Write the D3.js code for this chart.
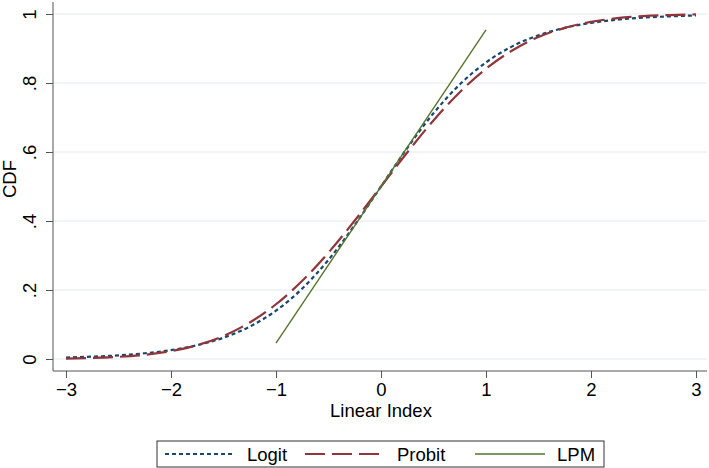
<!DOCTYPE html>
<html><head><meta charset="utf-8">
<script src="https://cdn.jsdelivr.net/npm/d3@7"></script>
<style>body{margin:0;background:#fff}svg{display:block}text{font-family:"Liberation Sans",Arial,Helvetica,sans-serif;fill:#000}</style>
</head><body><svg id="c" width="709" height="468"></svg>
<script>
// Data
const xGrid = [-3,-2.75,-2.5,-2.25,-2,-1.75,-1.5,-1.25,-1,-0.75,-0.5,-0.25,0,0.25,0.5,0.75,1,1.25,1.5,1.75,2,2.25,2.5,2.75,3];
const logitValues = [0.0043,0.0068,0.0106,0.0166,0.0259,0.0401,0.0617,0.0938,0.1402,0.2042,0.2876,0.3885,0.5,0.6115,0.7124,0.7958,0.8598,0.9062,0.9383,0.9599,0.9741,0.9834,0.9894,0.9932,0.9957];
const probitValues = [0.0013,0.0030,0.0062,0.0122,0.0228,0.0401,0.0668,0.1057,0.1587,0.2266,0.3085,0.4013,0.5,0.5987,0.6915,0.7734,0.8413,0.8943,0.9332,0.9599,0.9772,0.9878,0.9938,0.9970,0.9987];
const lpmX = [-1, 1];
const lpmValues = [0.046, 0.954];
const xTicks = [-3,-2,-1,0,1,2,3];
const yTicks = [0,0.2,0.4,0.6,0.8,1];
const yTickLabels = ["0",".2",".4",".6",".8","1"];
const seriesNames = ["Logit","Probit","LPM"];

const svg = d3.select("#c");
const x = d3.scaleLinear().domain([-3,3]).range([66,696]);
const y = d3.scaleLinear().domain([0,1]).range([359,14]);
const axisLeftX = 53, axisBottomY = 371, plotRight = 707, plotTop = 2;
const fs = "18.5px";

// gridlines
svg.append("g").selectAll("line").data(yTicks).join("line")
  .attr("x1", axisLeftX).attr("x2", plotRight)
  .attr("y1", d=>y(d)).attr("y2", d=>y(d))
  .attr("stroke","#e3eaed").attr("stroke-width",1);

// axes
const axisColor = "#555";
const yAxis = svg.append("g").attr("transform",`translate(${axisLeftX},0)`)
  .call(d3.axisLeft(y).tickValues(yTicks).tickSize(7).tickFormat((d,i)=>yTickLabels[i]));
yAxis.select(".domain").remove();
yAxis.append("line").attr("x1",0).attr("x2",0).attr("y1",plotTop).attr("y2",axisBottomY).attr("stroke",axisColor);
yAxis.selectAll(".tick line").attr("stroke",axisColor);
yAxis.selectAll(".tick text").attr("transform","rotate(-90)").attr("x",0).attr("y",-17)
  .attr("dy",0).attr("text-anchor","middle").style("font-size",fs).style("font-family",null);

const xAxis = svg.append("g").attr("transform",`translate(0,${axisBottomY})`)
  .call(d3.axisBottom(x).tickValues(xTicks).tickSize(7).tickFormat(d=>d<0?"\u2212"+Math.abs(d):String(d)));
xAxis.select(".domain").remove();
xAxis.append("line").attr("x1",axisLeftX).attr("x2",plotRight).attr("y1",0).attr("y2",0).attr("stroke",axisColor);
xAxis.selectAll(".tick line").attr("stroke",axisColor);
xAxis.selectAll(".tick text").attr("y",25).attr("dy",0).style("font-size",fs).style("font-family",null);
svg.selectAll(".tick text").attr("fill","#000");

// axis titles
svg.append("text").attr("x",381).attr("y",417).attr("text-anchor","middle").style("font-size",fs).text("Linear Index");
svg.append("text").attr("transform","translate(16,179) rotate(-90)").attr("text-anchor","middle").style("font-size",fs).text("CDF");

// lines
const line = d3.line().x(d=>x(d[0])).y(d=>y(d[1])).curve(d3.curveMonotoneX);
const styles = {
  Logit:{color:"#1a476f",width:2.2,dash:"4,3"},
  Probit:{color:"#90353b",width:2.2,dash:"20,7"},
  LPM:{color:"#55752f",width:1.4,dash:null}
};
const series = [
  {name:"Logit", pts:xGrid.map((v,i)=>[v,logitValues[i]])},
  {name:"Probit", pts:xGrid.map((v,i)=>[v,probitValues[i]])},
  {name:"LPM", pts:lpmX.map((v,i)=>[v,lpmValues[i]])}
];
svg.append("g").selectAll("path").data(series).join("path")
  .attr("d",d=>line(d.pts)).attr("fill","none")
  .attr("stroke",d=>styles[d.name].color).attr("stroke-width",d=>styles[d.name].width)
  .attr("stroke-dasharray",d=>styles[d.name].dash);

// legend
const lg = svg.append("g");
lg.append("rect").attr("x",157).attr("y",441).attr("width",447).attr("height",26)
  .attr("fill","#fff").attr("stroke","#333").attr("stroke-width",1);
const keyX = [[165,234],[305,385],[475,545]];
const textX = [247,397,557];
seriesNames.forEach((n,i)=>{
  const s = styles[n];
  lg.append("line").attr("x1",keyX[i][0]).attr("x2",keyX[i][1]).attr("y1",454).attr("y2",454)
    .attr("stroke",s.color).attr("stroke-width",s.width).attr("stroke-dasharray",s.dash);
  lg.append("text").attr("x",textX[i]).attr("y",461).style("font-size",fs).text(n);
});
</script></body></html>
